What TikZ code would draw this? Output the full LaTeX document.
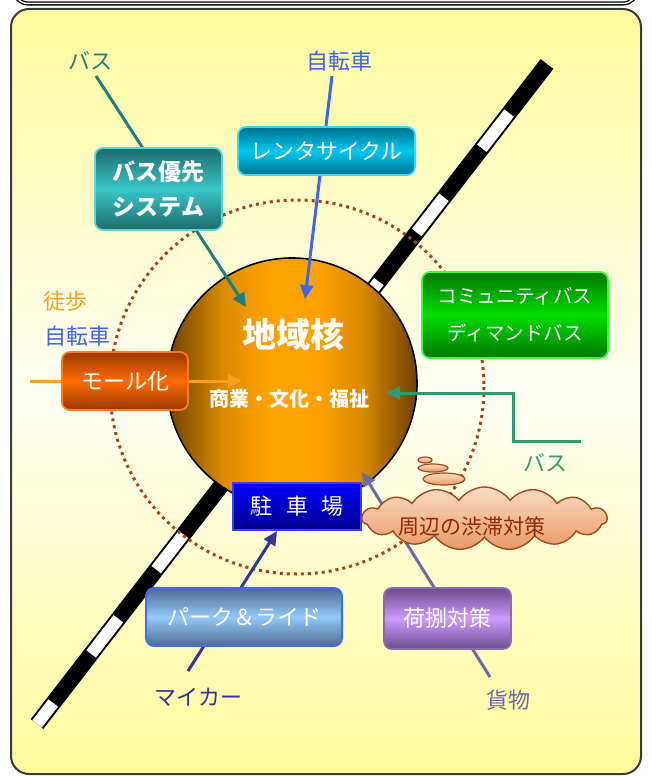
\documentclass[tikz,border=0pt]{standalone}
\usepackage{fontspec}
\newfontfamily\jp{Noto Sans CJK JP}
\usetikzlibrary{arrows.meta,shapes.symbols,shapes.geometric}
\definecolor{panelY}{HTML}{FFFA9C}
\definecolor{panelW}{HTML}{FFFFF4}
\definecolor{panelB}{HTML}{3A3A3A}
\definecolor{dotcol}{HTML}{A3441C}
\definecolor{coreD}{HTML}{704000}
\definecolor{coreM}{HTML}{D88A00}
\definecolor{coreL}{HTML}{FFA200}
\pgfdeclarehorizontalshading{coreshade}{100bp}{color(0bp)=(coreD); color(25bp)=(coreD); color(36bp)=(coreM); color(45bp)=(coreL); color(55bp)=(coreL); color(64bp)=(coreM); color(75bp)=(coreD); color(100bp)=(coreD)}
\definecolor{tealT}{HTML}{1D6A6E}\definecolor{tealM}{HTML}{38C6C8}\definecolor{tealE}{HTML}{5AD6D6}
\definecolor{cyanT}{HTML}{00708C}\definecolor{cyanM}{HTML}{00C8F2}\definecolor{cyanE}{HTML}{30DDFF}
\definecolor{grnT}{HTML}{007600}\definecolor{grnM}{HTML}{00DD00}\definecolor{grnE}{HTML}{33FF33}
\definecolor{orT}{HTML}{983800}\definecolor{orM}{HTML}{FF6C00}\definecolor{orE}{HTML}{FF7A1A}
\definecolor{pkT}{HTML}{0000FF}\definecolor{pkB}{HTML}{00008A}\definecolor{pkE}{HTML}{3B3BFF}
\definecolor{prT}{HTML}{4F6B90}\definecolor{prM}{HTML}{92C8FA}\definecolor{prE}{HTML}{3A6AFF}
\definecolor{nbT}{HTML}{6A4C8C}\definecolor{nbM}{HTML}{CC9AFF}\definecolor{nbE}{HTML}{8C6CB0}
\definecolor{cloudT}{HTML}{FADCC2}\definecolor{cloudB}{HTML}{E89A66}\definecolor{cloudE}{HTML}{A8461E}
\definecolor{cloudTx}{HTML}{8E2A08}
\definecolor{busTLc}{HTML}{1C8080}
\definecolor{bikec}{HTML}{3F66EA}
\definecolor{walkc}{HTML}{F8A020}
\definecolor{busRc}{HTML}{2E9B70}
\definecolor{carc}{HTML}{33339A}
\definecolor{cargoc}{HTML}{6A6AA6}
\tikzset{
  lbl/.style={font=\jp\fontsize{22}{26}\selectfont, inner sep=0pt},
  boxstyle/.style={rounded corners=8pt, line width=1.8pt, text=white,
     font=\jp\fontsize{22}{26}\selectfont, align=center, inner sep=0pt},
  vgrad/.style n args={2}{top color=#1, bottom color=#1, middle color=#2},
  conn/.style={line width=3pt, -{Triangle[length=14pt,width=13pt]}},
  puff/.style={ellipse, draw=cloudE, line width=1.2pt, top color=cloudT, bottom color=cloudB, inner sep=0pt},
}
\begin{document}
\begin{tikzpicture}[x=1pt,y=-1pt]
\useasboundingbox (0,0) rectangle (651,776);
% remnant of title frame
\draw[line width=1.3pt, double=white, double distance=1.5pt, rounded corners=14pt] (14,-40) rectangle (637,3.5);
% panel
\draw[draw=panelB, line width=2pt, rounded corners=18pt, vgrad={panelY}{panelW}] (11,9) rectangle (641,774);
% railway
\coordinate (railtop) at (547,64);
\coordinate (railbot) at (37,724);
\draw[line width=16pt, black] (railtop) -- (railbot);
\draw[line width=12pt, white, dash pattern=on 44.5pt off 62pt, dash phase=44.5pt] (railtop) -- (railbot);
% dotted ring
\draw[dotcol, line width=3pt, dash pattern=on 3pt off 4pt] (297,387) circle[radius=187];
% core
\node[circle, minimum size=250pt, inner sep=0pt, draw=black, line width=1.6pt, shading=coreshade] (core) at (292,383) {};
\node[font=\jp\bfseries\fontsize{34}{38}\selectfont, text=white, inner sep=0pt] (coretitle) at (293,335) {地域核};
\node[font=\jp\bfseries\fontsize{20}{24}\selectfont, text=white, inner sep=0pt] (corefn) at (289,399) {商業・文化・福祉};
% labels
\node[lbl, text=busTLc] (busTL) at (90,61) {バス};
\node[lbl, text=bikec] (bikeT) at (339,61) {自転車};
\node[lbl, text=walkc] (walk) at (65,301) {徒歩};
\node[lbl, text=bikec] (bikeL) at (77,336) {自転車};
\node[lbl, text=busRc] (busR) at (545,463) {バス};
\node[lbl, text=carc] (car) at (198,697) {マイカー};
\node[lbl, text=cargoc] (cargo) at (508,700) {貨物};
% connector end points
\coordinate (busTLfoot) at (96,76);
\coordinate (busTLtip) at (246,307);
\coordinate (bikeTfoot) at (332,76);
\coordinate (bikeTtip) at (305,299);
\coordinate (walkfoot) at (30,381);
\coordinate (walktip) at (242,381);
\coordinate (busRfoot) at (581,441);
\coordinate (busRtip) at (386,393);
\coordinate (carfoot) at (188,671);
\coordinate (cartip) at (277,531);
\coordinate (cargofoot) at (490,677);
\coordinate (cargotip) at (362,472);
% connectors
\draw[conn, busTLc] (busTLfoot) -- (busTLtip);
\draw[conn, bikec] (bikeTfoot) -- (bikeTtip);
\draw[conn, walkc] (walkfoot) -- (walktip);
\draw[conn, busRc] (busRfoot) -- (513,441) -- (513,393) -- (busRtip);
\draw[conn, carc] (carfoot) -- (cartip);
\draw[conn, cargoc] (cargofoot) -- (cargotip);
% boxes
\node[boxstyle, draw=tealE, vgrad={tealT}{tealM}, minimum width=127pt, minimum height=82pt, font=\jp\bfseries\fontsize{23}{35}\selectfont] (busbox) at (158.5,189) {バス優先\\システム};
\node[boxstyle, draw=cyanE, vgrad={cyanT}{cyanM}, minimum width=177pt, minimum height=48pt] (rentbox) at (326.5,151) {レンタサイクル};
\node[boxstyle, draw=grnE, vgrad={grnT}{grnM}, minimum width=186pt, minimum height=86pt, font=\jp\fontsize{19.5}{37}\selectfont] (commbox) at (515,315) {コミュニティバス\\ディマンドバス};
\node[boxstyle, draw=orE, vgrad={orT}{orM}, minimum width=126pt, minimum height=58pt] (mallbox) at (125,381) {モール化};
\node[boxstyle, rounded corners=0pt, line width=1.5pt, draw=pkE, top color=pkT, bottom color=pkB, minimum width=128pt, minimum height=47pt] (parkbox) at (297,506.5) {駐\hspace{0.6em}車\hspace{0.6em}場};
\node[boxstyle, draw=prE, vgrad={prT}{prM}, minimum width=196pt, minimum height=58pt] (prbox) at (244,617) {パーク＆ライド};
\node[boxstyle, draw=nbE, vgrad={nbT}{nbM}, minimum width=127pt, minimum height=61pt] (nibox) at (447.5,618.5) {荷捌対策};
% cloud
\node[puff, minimum width=14pt, minimum height=6pt] (puff1) at (425,460) {};
\node[puff, minimum width=30pt, minimum height=8pt] (puff2) at (433,468) {};
\node[puff, minimum width=42pt, minimum height=12pt] (puff3) at (444,479) {};
\node[cloud, cloud puffs=15, cloud puff arc=110, aspect=3.9, draw=cloudE, line width=1.4pt, top color=cloudT, bottom color=cloudB, minimum width=245pt, minimum height=63pt, inner sep=0pt] (jam) at (484.5,518.5) {};
\node[font=\jp\fontsize{21}{25}\selectfont, text=cloudTx, inner sep=0pt] (jamtext) at (472,527) {周辺の渋滞対策};
\end{tikzpicture}
\end{document}
